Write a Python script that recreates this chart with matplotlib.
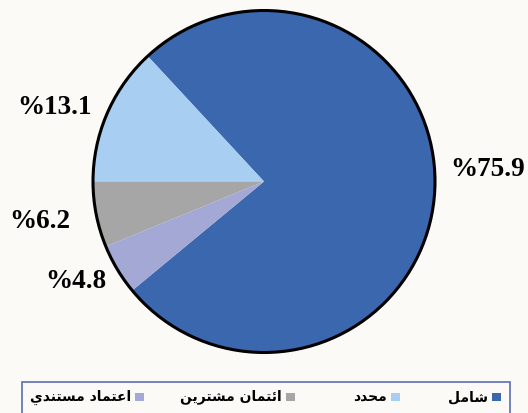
import numpy as np
import matplotlib
matplotlib.use('Agg')
import matplotlib.pyplot as plt
from matplotlib.patches import Circle, Rectangle

# data
labels = ['شامل', 'محدد', 'ائتمان مشترين', 'اعتماد مستندي']
values = [75.9, 13.1, 6.2, 4.8]
colors = ['#3b67ae', '#a8cef2', '#a6a6a6', '#a4a8d4']

# arabic contextual forms: isolated, final, initial, medial
forms = {
	'ا': (0xFE8D, 0xFE8E), 'د': (0xFEA9, 0xFEAA), 'ر': (0xFEAD, 0xFEAE),
	'ش': (0xFEB5, 0xFEB6, 0xFEB7, 0xFEB8), 'م': (0xFEE1, 0xFEE2, 0xFEE3, 0xFEE4),
	'ل': (0xFEDD, 0xFEDE, 0xFEDF, 0xFEE0), 'ح': (0xFEA1, 0xFEA2, 0xFEA3, 0xFEA4),
	'ئ': (0xFE89, 0xFE8A, 0xFE8B, 0xFE8C), 'ت': (0xFE95, 0xFE96, 0xFE97, 0xFE98),
	'ن': (0xFEE5, 0xFEE6, 0xFEE7, 0xFEE8), 'ي': (0xFEF1, 0xFEF2, 0xFEF3, 0xFEF4),
	'ع': (0xFEC9, 0xFECA, 0xFECB, 0xFECC), 'س': (0xFEB1, 0xFEB2, 0xFEB3, 0xFEB4),
}

def shape(s):
	out = []
	for i, c in enumerate(s):
		if c not in forms:
			out.append(c)
			continue
		prev = i > 0 and s[i-1] in forms and len(forms[s[i-1]]) == 4
		nxt = i < len(s) - 1 and s[i+1] in forms and len(forms[c]) == 4
		idx = {(False, False): 0, (True, False): 1, (False, True): 2, (True, True): 3}[(prev, nxt)]
		out.append(chr(forms[c][idx]))
	return ''.join(out[::-1])

W, H = 528, 413
fig = plt.figure(figsize=(W/100, H/100), dpi=100)
fig.patch.set_facecolor('#fbfaf7')
ax = fig.add_axes([0, 0, 1, 1])

cx, cy, r = 264, H - 181.5, 171
start = 180 - (values[0] + values[1]) * 3.6
ax.pie(values, colors=colors, startangle=start, center=(cx, cy), radius=r,
	wedgeprops=dict(linewidth=0), frame=True)
ax.add_patch(Circle((cx, cy), r, fill=False, ec='black', lw=2.2, zorder=5))
ax.set_xlim(0, W)
ax.set_ylim(0, H)
ax.set_aspect('equal')
ax.axis('off')

lab_pos = [(450, 169), (17, 107), (9, 221), (45, 281)]
for v, (x, y) in zip(values, lab_pos):
	ax.text(x, H - y, '%%%.1f' % v, fontsize=19.5, fontweight='bold',
		family='Liberation Serif', ha='left', va='center')

# legend
ax.add_patch(Rectangle((22, -10), 488, H - 382 + 10, fill=False, ec='#5b6fb0', lw=1.2, clip_on=False))
sq_x = [492, 391, 286, 135]
for lab, c, x in zip(labels, colors, sq_x):
	ax.add_patch(Rectangle((x, H - 401), 9, 8, fc=c, ec='none'))
	ax.text(x - 4, H - 397, shape(lab), fontsize=10, fontweight='bold',
		family='DejaVu Sans', ha='right', va='center')

plt.savefig('out.png', dpi=100, facecolor=fig.get_facecolor())
